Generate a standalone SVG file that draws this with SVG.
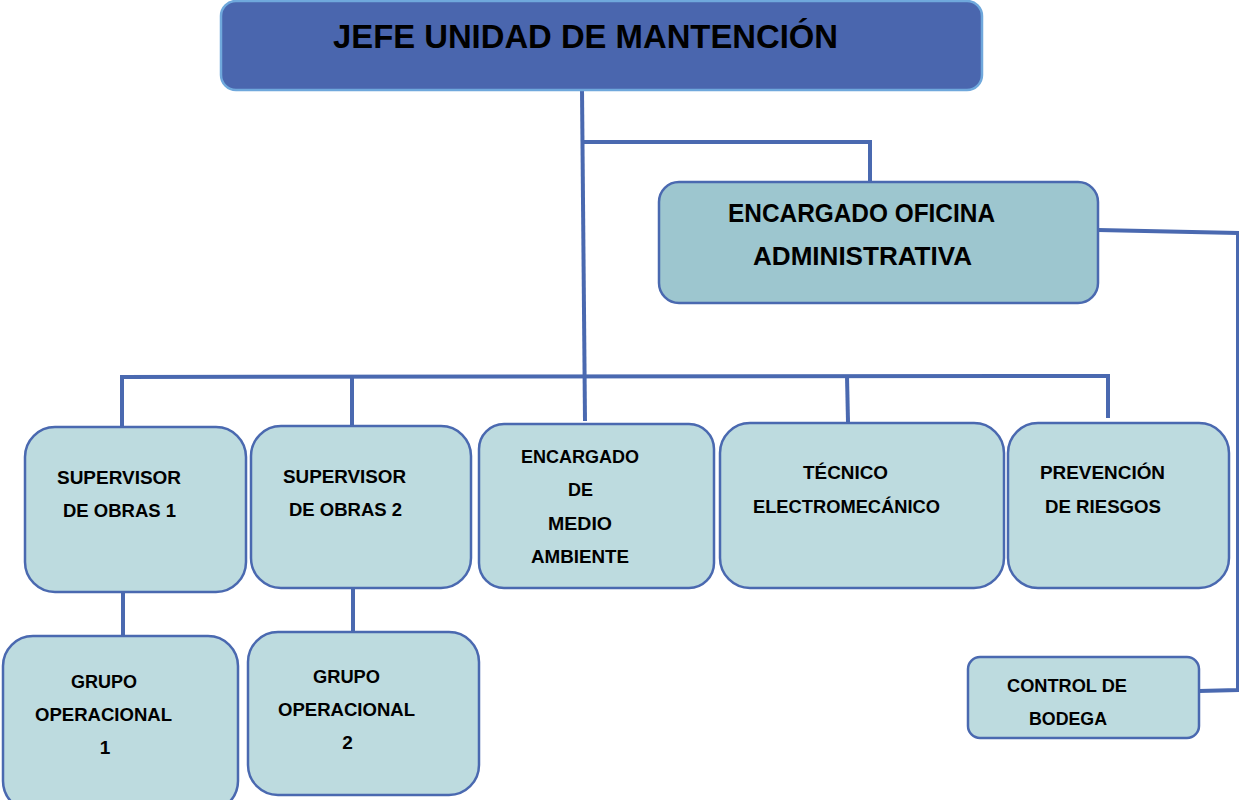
<svg xmlns="http://www.w3.org/2000/svg" width="1239" height="800" viewBox="0 0 1239 800">
<style>
.t{font-family:"Liberation Sans",Arial,sans-serif;font-weight:bold;fill:#000;text-anchor:middle;font-size:19px}
.t32{font-size:34px}
.t24{font-size:25px}
.box{fill:#bddbdf;stroke:#4a69b0;stroke-width:2.5}
.off{fill:#9dc6cf;stroke:#4a69b0;stroke-width:2.5}
.top{fill:#4a66ae;stroke:#6fa8dc;stroke-width:2.5}
.c{fill:none;stroke:#4a69b0;stroke-width:4;stroke-linejoin:miter}
</style>
<rect width="1239" height="800" fill="#fff"/>
<g id="connectors">
<path class="c" d="M582,90 L585,421"/>
<path class="c" d="M583,142 L870,142 L870,181"/>
<path class="c" d="M122,427 L122,377 L1108,376 L1108,418"/>
<path class="c" d="M352,377 L352,426"/>
<path class="c" d="M847,376 L848,422"/>
<path class="c" d="M1098,230 L1238,233 L1238,690 L1199,691"/>
<path class="c" d="M123,592 L123,636"/>
<path class="c" d="M353,588 L353,632"/>
</g>
<g id="jefe">
<rect class="top" x="221" y="1" width="761" height="89" rx="15"/>
<text class="t t32" x="585.5" y="48" textLength="505" lengthAdjust="spacingAndGlyphs">JEFE UNIDAD DE MANTENCIÓN</text>
</g>
<g id="oficina">
<rect class="off" x="659" y="182" width="439" height="121" rx="20"/>
<text class="t t24" x="861.5" y="222" textLength="267" lengthAdjust="spacingAndGlyphs">ENCARGADO OFICINA</text>
<text class="t t24" x="862.5" y="265" textLength="219" lengthAdjust="spacingAndGlyphs">ADMINISTRATIVA</text>
</g>
<g id="supervisor1">
<rect class="box" x="25" y="427" width="221" height="165" rx="30"/>
<text class="t" x="119" y="484" textLength="124" lengthAdjust="spacingAndGlyphs">SUPERVISOR</text>
<text class="t" x="119.5" y="517" textLength="113" lengthAdjust="spacingAndGlyphs">DE OBRAS 1</text>
</g>
<g id="supervisor2">
<rect class="box" x="251" y="426" width="220" height="162" rx="30"/>
<text class="t" x="344.5" y="483" textLength="123" lengthAdjust="spacingAndGlyphs">SUPERVISOR</text>
<text class="t" x="345.5" y="516" textLength="113" lengthAdjust="spacingAndGlyphs">DE OBRAS 2</text>
</g>
<g id="medioambiente">
<rect class="box" x="479" y="424" width="235" height="164" rx="25"/>
<text class="t" x="580" y="463" textLength="118" lengthAdjust="spacingAndGlyphs">ENCARGADO</text>
<text class="t" x="580.5" y="496" textLength="25" lengthAdjust="spacingAndGlyphs">DE</text>
<text class="t" x="580" y="530" textLength="64" lengthAdjust="spacingAndGlyphs">MEDIO</text>
<text class="t" x="580" y="563" textLength="98" lengthAdjust="spacingAndGlyphs">AMBIENTE</text>
</g>
<g id="tecnico">
<rect class="box" x="720" y="423" width="284" height="165" rx="30"/>
<text class="t" x="845.5" y="479" textLength="85" lengthAdjust="spacingAndGlyphs">TÉCNICO</text>
<text class="t" x="846.5" y="513" textLength="187" lengthAdjust="spacingAndGlyphs">ELECTROMECÁNICO</text>
</g>
<g id="prevencion">
<rect class="box" x="1008" y="423" width="221" height="165" rx="30"/>
<text class="t" x="1102.5" y="479" textLength="125" lengthAdjust="spacingAndGlyphs">PREVENCIÓN</text>
<text class="t" x="1103" y="513" textLength="116" lengthAdjust="spacingAndGlyphs">DE RIESGOS</text>
</g>
<g id="grupo1">
<rect class="box" x="3" y="636" width="235" height="175" rx="30"/>
<text class="t" x="104" y="688" textLength="66" lengthAdjust="spacingAndGlyphs">GRUPO</text>
<text class="t" x="103.5" y="721" textLength="137" lengthAdjust="spacingAndGlyphs">OPERACIONAL</text>
<text class="t" x="105" y="754">1</text>
</g>
<g id="grupo2">
<rect class="box" x="248" y="632" width="231" height="163" rx="30"/>
<text class="t" x="346.5" y="683" textLength="67" lengthAdjust="spacingAndGlyphs">GRUPO</text>
<text class="t" x="346.5" y="716" textLength="137" lengthAdjust="spacingAndGlyphs">OPERACIONAL</text>
<text class="t" x="347.5" y="749">2</text>
</g>
<g id="bodega">
<rect class="box" x="968" y="657" width="231" height="81" rx="12"/>
<text class="t" x="1067" y="692" textLength="120" lengthAdjust="spacingAndGlyphs">CONTROL DE</text>
<text class="t" x="1068" y="725" textLength="78" lengthAdjust="spacingAndGlyphs">BODEGA</text>
</g>
</svg>
